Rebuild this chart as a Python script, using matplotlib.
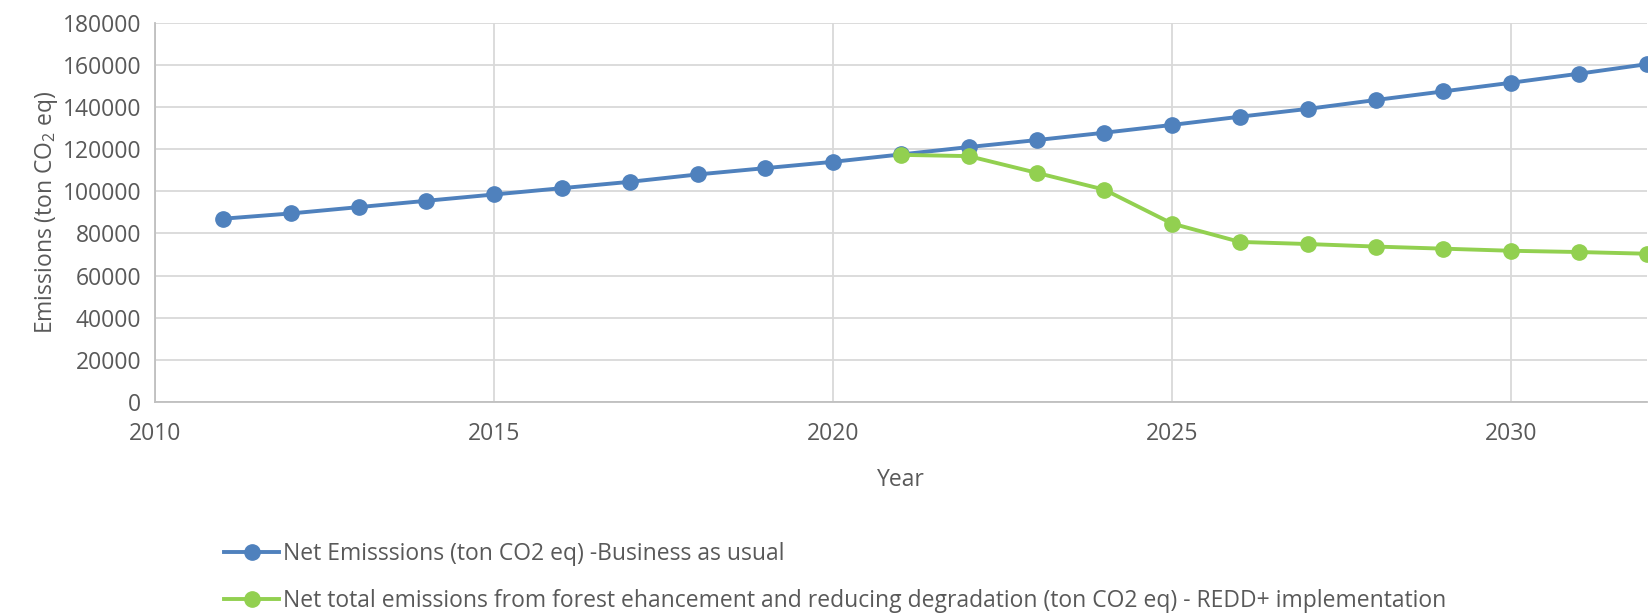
import matplotlib.pyplot as plt
import numpy as np

plt.rcParams['font.family'] = ['Open Sans', 'DejaVu Sans']
plt.rcParams['mathtext.default'] = 'regular'

# Datos
anios_bau = np.arange(2011, 2033)
emisiones_bau = [87000, 89500, 92500, 95500, 98500, 101500, 104500, 108000, 111000, 114000, 117500,
                 121000, 124300, 127800, 131500, 135400, 139100, 143300, 147400, 151500, 155800, 160300]
anios_redd = np.arange(2021, 2033)
emisiones_redd = [117300, 116700, 108800, 100800, 84700, 76000, 75000, 73800, 72800, 71800, 71200, 70400]

etiqueta_bau = 'Net Emisssions (ton CO2 eq) -Business as usual'
etiqueta_redd = ('Net total emissions from forest ehancement and reducing degradation '
                 '(ton CO2 eq) - REDD+ implementation')

gris = '#595959'
azul = '#4f81bd'
verde = '#92d050'
fs = 16.5

fig = plt.figure(figsize=(16.5, 6.13), dpi=100)
ax = fig.add_axes([0.094, 0.344, 0.904, 0.619])

l1, = ax.plot(anios_bau, emisiones_bau, color=azul, lw=2.8, marker='o', ms=11, label=etiqueta_bau, zorder=3)
l2, = ax.plot(anios_redd, emisiones_redd, color=verde, lw=2.8, marker='o', ms=11, label=etiqueta_redd, zorder=4)

ax.set_xlim(2010, 2032)
ax.set_ylim(0, 180000)
ax.set_xticks(range(2010, 2031, 5))
ax.set_yticks(range(0, 180001, 20000))
ax.grid(True, color='#d9d9d9', lw=1.3)
ax.set_axisbelow(True)
for s in ['top', 'right']:
    ax.spines[s].set_visible(False)
for s in ['left', 'bottom']:
    ax.spines[s].set_color('#bfbfbf')
    ax.spines[s].set_linewidth(1.3)
ax.tick_params(colors=gris, labelsize=fs, length=0)
ax.tick_params(axis='x', pad=14)
ax.tick_params(axis='y', pad=10)
ax.set_xlabel('Year', color=gris, fontsize=fs, labelpad=16)
ax.set_ylabel('Emissions (ton CO$_2$ eq)', color=gris, fontsize=fs, labelpad=2)

fig.legend(handles=[l1, l2], loc='upper left', bbox_to_anchor=(0.129, 0.135), frameon=False,
           fontsize=fs, labelcolor=gris, handlelength=2.4, handletextpad=0.15, labelspacing=1.0,
           borderpad=0)

fig.savefig('out.png', dpi=100)
